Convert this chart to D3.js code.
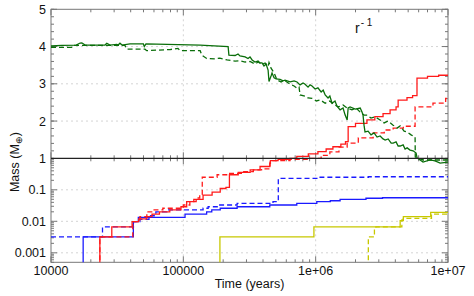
<!DOCTYPE html>
<html>
<head>
<meta charset="utf-8">
<script src="https://cdn.jsdelivr.net/npm/d3@7"></script>
<style>
body { margin: 0; background: #fff; }
svg { display: block; font-family: "Liberation Sans", Arial, sans-serif; }
</style>
</head>
<body>
<svg width="474" height="296"></svg>
<script>
// ---- data (time in years, mass in Earth masses) ----
let xTicks = [1e4, 1e5, 1e6, 1e7];
let xTickLabels = ['10000', '100000', '1e+06', '1e+07'];
let topTicks = [2, 3, 4, 5];
let botTicks = [1, 0.1, 0.01, 0.001];
let botTickLabels = ['1', '0.1', '0.01', '0.001'];

let greenSolid = [
	[1.0e4, 4.015], [1.21e4, 4.03], [1.55e4, 4.04], [1.66e4, 4.095], [1.71e4, 4.10], [1.81e4, 4.04],
	[2.56e4, 4.04], [2.64e4, 4.09], [2.79e4, 4.04], [3.14e4, 4.06], [3.22e4, 4.04], [3.32e4, 4.09],
	[3.44e4, 4.04], [3.95e4, 4.07], [4.99e4, 4.07], [5.07e4, 4.0], [5.22e4, 4.07], [9.12e4, 4.05],
	[1.34e5, 4.04], [2.18e5, 4.0], [2.21e5, 3.77], [2.46e5, 3.76], [2.59e5, 3.80], [2.68e5, 3.75],
	[2.93e5, 3.72], [3.08e5, 3.68], [3.19e5, 3.72], [3.31e5, 3.64], [3.48e5, 3.585], [3.67e5, 3.61],
	[3.80e5, 3.56], [3.93e5, 3.56], [4.07e5, 3.48], [4.22e5, 3.53], [4.37e5, 3.37], [4.44e5, 3.06],
	[4.60e5, 3.21], [4.68e5, 3.29], [4.85e5, 3.16], [5.02e5, 3.13], [5.38e5, 3.12], [5.67e5, 3.08],
	[5.87e5, 3.10], [6.41e5, 3.05], [6.87e5, 3.08], [7.23e5, 3.05], [7.62e5, 2.97], [8.03e5, 3.02],
	[8.32e5, 2.99], [8.76e5, 2.91], [9.07e5, 2.97], [9.39e5, 2.94], [9.90e5, 2.86], [1.04e6, 2.89],
	[1.10e6, 2.78], [1.14e6, 2.83], [1.18e6, 2.70], [1.24e6, 2.62], [1.28e6, 2.67], [1.33e6, 2.48],
	[1.40e6, 2.54], [1.45e6, 2.40], [1.53e6, 2.30], [1.61e6, 2.35], [1.67e6, 2.16], [1.73e6, 2.03],
	[1.76e6, 2.35], [1.82e6, 2.38], [1.99e6, 2.32], [2.17e6, 2.35], [2.24e6, 2.24], [2.28e6, 2.16],
	[2.32e6, 1.89], [2.36e6, 1.71], [2.49e6, 1.73], [2.62e6, 1.63], [2.76e6, 1.68], [2.91e6, 1.57],
	[3.07e6, 1.60], [3.23e6, 1.52], [3.35e6, 1.49], [3.53e6, 1.52], [3.72e6, 1.41], [3.85e6, 1.41],
	[4.05e6, 1.44], [4.20e6, 1.33], [4.35e6, 1.33], [4.58e6, 1.36], [4.74e6, 1.25], [4.91e6, 1.28],
	[5.17e6, 1.22], [5.45e6, 1.20], [5.74e6, 1.14], [5.84e6, 1.01], [6.48e6, 0.90], [7.32e6, 0.955],
	[7.99e6, 0.93], [8.72e6, 0.87], [1e7, 0.90]
];
let greenDashed = [
	[1.0e4, 3.98], [1.44e4, 3.98], [1.47e4, 4.03], [3.62e4, 4.03], [3.73e4, 3.93], [5.13e4, 3.93],
	[5.29e4, 3.89], [7.93e4, 3.92], [9.12e4, 3.95], [9.44e4, 3.89], [1.34e5, 3.89], [1.38e5, 3.77],
	[1.50e5, 3.68], [1.74e5, 3.67], [1.89e5, 3.69], [2.14e5, 3.64], [2.46e5, 3.61], [2.68e5, 3.62],
	[2.93e5, 3.585], [3.19e5, 3.60], [3.48e5, 3.53], [3.67e5, 3.585], [3.93e5, 3.52], [4.15e5, 3.56],
	[4.37e5, 3.46], [4.44e5, 3.57], [4.60e5, 3.42], [4.85e5, 3.29], [5.11e5, 3.10], [5.48e5, 3.05],
	[5.77e5, 3.10], [6.41e5, 2.99], [6.87e5, 2.94], [7.23e5, 2.88], [7.49e5, 2.91], [7.62e5, 2.70],
	[8.32e5, 2.67], [8.76e5, 2.62], [9.39e5, 2.61], [1.01e6, 2.54], [1.08e6, 2.57], [1.18e6, 2.48],
	[1.28e6, 2.54], [1.35e6, 2.46], [1.48e6, 2.38], [1.61e6, 2.43], [1.73e6, 2.35], [1.88e6, 2.30],
	[2.02e6, 2.35], [2.17e6, 2.24], [2.32e6, 2.16], [2.45e6, 2.16], [2.62e6, 2.08], [2.81e6, 2.11],
	[3.07e6, 2.03], [3.29e6, 1.95], [3.53e6, 2.00], [3.85e6, 1.89], [4.12e6, 1.81], [4.35e6, 1.87],
	[4.66e6, 1.73], [4.91e6, 1.71], [5.26e6, 1.63], [5.64e6, 1.57], [5.66e6, 1.035], [6.48e6, 0.955],
	[1e7, 0.955]
];
let redSolid = [
	[2.34e4, 1e-4], [2.34e4, 0.0032], [2.88e4, 0.0067], [4.1e4, 0.0098], [4.6e4, 0.012], [5.3e4, 0.014],
	[5.8e4, 0.017], [6.6e4, 0.020], [7.9e4, 0.023], [9.6e4, 0.029], [1.06e5, 0.042], [1.2e5, 0.05],
	[1.41e5, 0.068], [1.65e5, 0.085], [1.9e5, 0.11], [2.1e5, 0.12], [2.23e5, 0.30], [2.6e5, 0.36],
	[3.2e5, 0.43], [3.8e5, 0.55], [4.5e5, 0.69], [4.55e5, 0.84], [5.2e5, 0.93], [6.4e5, 1.0],
	[7.2e5, 1.05], [8.8e5, 1.12], [1.04e6, 1.18], [1.2e6, 1.25], [1.35e6, 1.31], [1.55e6, 1.38],
	[1.68e6, 1.45], [1.76e6, 1.85], [2.0e6, 1.94], [2.44e6, 2.03], [2.8e6, 2.12], [3.23e6, 2.2],
	[3.65e6, 2.3], [4.05e6, 2.38], [4.2e6, 2.56], [4.9e6, 2.63], [5.4e6, 2.68], [5.83e6, 3.15],
	[7.0e6, 3.2], [8.5e6, 3.23], [1e7, 3.25]
];
let redDashed = [
	[2.34e4, 1e-4], [2.34e4, 0.0032], [4.15e4, 0.0098], [4.7e4, 0.014], [5.3e4, 0.020], [5.9e4, 0.023],
	[7.0e4, 0.026], [1.0e5, 0.033], [1.12e5, 0.042], [1.25e5, 0.055], [1.33e5, 0.070], [1.39e5, 0.25],
	[1.8e5, 0.30], [2.18e5, 0.33], [2.8e5, 0.38], [3.38e5, 0.43], [3.9e5, 0.46], [4.52e5, 0.84],
	[6.4e5, 0.93], [9.1e5, 1.0], [1.1e6, 1.08], [1.28e6, 1.17], [1.5e6, 1.30], [1.73e6, 1.41],
	[2.1e6, 1.55], [2.72e6, 1.68], [3.3e6, 1.76], [3.85e6, 1.81], [4.6e6, 1.86], [5.64e6, 2.38],
	[7.7e6, 2.48], [9.6e6, 2.61], [1e7, 2.61]
];
let blueSolid = [
	[1.75e4, 1e-4], [1.75e4, 0.0032], [4.19e4, 0.0098], [4.57e4, 0.0134], [1.03e5, 0.017], [1.5e5, 0.020],
	[1.64e5, 0.023], [1.9e5, 0.026], [2.55e5, 0.029], [4.5e5, 0.033], [7.2e5, 0.037], [1.02e6, 0.042],
	[1.29e6, 0.045], [1.53e6, 0.050], [2.4e6, 0.054], [3.2e6, 0.056], [1e7, 0.056]
];
let blueDashed = [
	[1e4, 0.0032], [2.45e4, 0.0067], [4.2e4, 0.0098], [4.7e4, 0.0115], [5.5e4, 0.015], [6.2e4, 0.020],
	[7.5e4, 0.023], [1.41e5, 0.026], [1.54e5, 0.029], [1.83e5, 0.033], [2.55e5, 0.037], [4.76e5, 0.042],
	[5.22e5, 0.23], [1.08e6, 0.25], [2.5e6, 0.26], [1e7, 0.26]
];
let yellowSolid = [
	[1.89e5, 1e-4], [1.89e5, 0.0032], [9.7e5, 0.0067], [4.35e6, 0.0105], [4.6e6, 0.014], [7.4e6, 0.0193], [1e7, 0.0193]
];
let yellowDashed = [
	[2.5e6, 1e-4], [2.5e6, 0.0032], [2.78e6, 0.0056], [2.85e6, 0.0067], [4.48e6, 0.011], [4.6e6, 0.0124],
	[7.5e6, 0.017], [1e7, 0.017]
];

// ---- layout ----
let plotLeft = 51, plotRight = 448, plotTop = 9.3, plotMid = 158.3, plotBottom = 262.3;
let frameColor = '#777', gridColor = '#d4d4d4';

let svg = d3.select('svg');

let x = d3.scaleLog().domain([1e4, 1e7]).range([plotLeft, plotRight]);
let yTop = d3.scaleLinear().domain([1, 5]).range([plotMid, plotTop]);
let yBot = d3.scaleLog().domain([0.0005, 1]).range([plotBottom, plotMid]);
// masses above 1 go in the linear panel, below 1 in the log panel
function yMass(m) {
	return m >= 1 ? yTop(m) : yBot(m);
}

svg.append('clipPath').attr('id', 'plot')
	.append('rect')
	.attr('x', plotLeft).attr('y', plotTop)
	.attr('width', plotRight - plotLeft).attr('height', plotBottom - plotTop);

// grid
let grid = svg.append('g')
	.attr('stroke', gridColor)
	.attr('stroke-dasharray', '2,3');

grid.selectAll('.gx')
	.data([1e5, 1e6])
	.join('line')
	.attr('class', 'gx')
	.attr('x1', d => x(d)).attr('x2', d => x(d))
	.attr('y1', plotTop).attr('y2', plotBottom);

grid.selectAll('.gt')
	.data([2, 3, 4])
	.join('line')
	.attr('class', 'gt')
	.attr('x1', plotLeft).attr('x2', plotRight)
	.attr('y1', d => yTop(d)).attr('y2', d => yTop(d));

grid.selectAll('.gb')
	.data([0.1, 0.01, 0.001])
	.join('line')
	.attr('class', 'gb')
	.attr('x1', plotLeft).attr('x2', plotRight)
	.attr('y1', d => yBot(d)).attr('y2', d => yBot(d));

// ticks (inward, mirrored on all sides of both panels)
let ticks = svg.append('g').attr('stroke', frameColor).attr('stroke-width', 1);

let xMinor = [];
[1e4, 1e5, 1e6].forEach(d => {
	for (let k = 2; k <= 9; k++) xMinor.push(k * d);
});

function xTickMarks(yEdge, dir) {
	ticks.append('g').selectAll('line')
		.data(xTicks.concat(xMinor))
		.join('line')
		.attr('x1', d => x(d)).attr('x2', d => x(d))
		.attr('y1', yEdge)
		.attr('y2', d => yEdge + dir * (xTicks.includes(d) ? 6 : 3));
}
xTickMarks(plotTop, 1);
xTickMarks(plotMid, -1);
xTickMarks(plotMid, 1);
xTickMarks(plotBottom, -1);

let topMinor = d3.range(1, 5.01, 0.2);
let botMinor = [];
[0.0001, 0.001, 0.01, 0.1].forEach(d => {
	for (let k = 2; k <= 9; k++) if (k * d >= 0.0005) botMinor.push(k * d);
});

function yTickMarks(vals, scale, isMajor) {
	ticks.append('g').selectAll('line')
		.data(vals)
		.join('line')
		.attr('x1', plotLeft).attr('x2', plotLeft + (isMajor ? 6 : 3))
		.attr('y1', d => scale(d)).attr('y2', d => scale(d));
	ticks.append('g').selectAll('line')
		.data(vals)
		.join('line')
		.attr('x1', plotRight).attr('x2', plotRight - (isMajor ? 6 : 3))
		.attr('y1', d => scale(d)).attr('y2', d => scale(d));
}
yTickMarks(topTicks, yTop, true);
yTickMarks(topMinor, yTop, false);
yTickMarks(botTicks.slice(1), yBot, true);
yTickMarks(botMinor, yBot, false);

// frame
svg.append('rect')
	.attr('x', plotLeft).attr('y', plotTop)
	.attr('width', plotRight - plotLeft).attr('height', plotBottom - plotTop)
	.attr('fill', 'none')
	.attr('stroke', frameColor);

// series
let stepLine = d3.line()
	.x(d => x(d[0]))
	.y(d => yMass(d[1]))
	.curve(d3.curveStepAfter);

let greenLine = d3.line()
	.x(d => x(d[0]))
	.y(d => yTop(d[1]));

let series = [
	{data: blueSolid, line: stepLine, color: '#1a1aff', dash: null},
	{data: blueDashed, line: stepLine, color: '#1a1aff', dash: '5,3'},
	{data: yellowSolid, line: stepLine, color: '#c8c800', dash: null},
	{data: yellowDashed, line: stepLine, color: '#c8c800', dash: '5,3'},
	{data: redSolid, line: stepLine, color: '#ff1a1a', dash: null},
	{data: redDashed, line: stepLine, color: '#ff1a1a', dash: '5,3'},
	{data: greenSolid, line: greenLine, color: '#0a6e0a', dash: null},
	{data: greenDashed, line: greenLine, color: '#0a6e0a', dash: '5,3'}
];

svg.append('g')
	.attr('clip-path', 'url(#plot)')
	.selectAll('path')
	.data(series)
	.join('path')
	.attr('d', d => d.line(d.data))
	.attr('fill', 'none')
	.attr('stroke', d => d.color)
	.attr('stroke-width', 1.3)
	.attr('stroke-dasharray', d => d.dash);

// the M = 1 divider
svg.append('line')
	.attr('x1', plotLeft).attr('x2', plotRight)
	.attr('y1', plotMid).attr('y2', plotMid)
	.attr('stroke', '#222')
	.attr('stroke-width', 1.3);

// tick labels
let labels = svg.append('g').attr('font-size', 12.5).attr('fill', '#111');

labels.selectAll('.xl')
	.data(xTicks)
	.join('text')
	.attr('class', 'xl')
	.attr('x', d => x(d))
	.attr('y', 275)
	.attr('text-anchor', 'middle')
	.text((d, i) => xTickLabels[i]);

labels.selectAll('.tl')
	.data(topTicks)
	.join('text')
	.attr('class', 'tl')
	.attr('x', plotLeft - 5)
	.attr('y', d => yTop(d) + 4.5)
	.attr('text-anchor', 'end')
	.text(d => d);

labels.selectAll('.bl')
	.data(botTicks)
	.join('text')
	.attr('class', 'bl')
	.attr('x', plotLeft - 5)
	.attr('y', d => yBot(d) + 4.5)
	.attr('text-anchor', 'end')
	.text((d, i) => botTickLabels[i]);

// axis titles
labels.append('text')
	.attr('x', (plotLeft + plotRight) / 2)
	.attr('y', 288)
	.attr('text-anchor', 'middle')
	.text('Time (years)');

let yTitle = labels.append('text')
	.attr('transform', 'translate(19,162) rotate(-90)')
	.attr('text-anchor', 'middle');
yTitle.append('tspan').text('Mass (M');
yTitle.append('tspan').attr('font-size', 9).attr('dy', 3).text('⊕');
yTitle.append('tspan').attr('dy', -3).text(')');

// annotation
let note = labels.append('text')
	.attr('x', 355)
	.attr('y', 33)
	.attr('font-size', 14);
note.append('tspan').text('r');
note.append('tspan').attr('font-size', 10).attr('dy', -7).attr('dx', 1).text('- 1');
</script>
</body>
</html>
